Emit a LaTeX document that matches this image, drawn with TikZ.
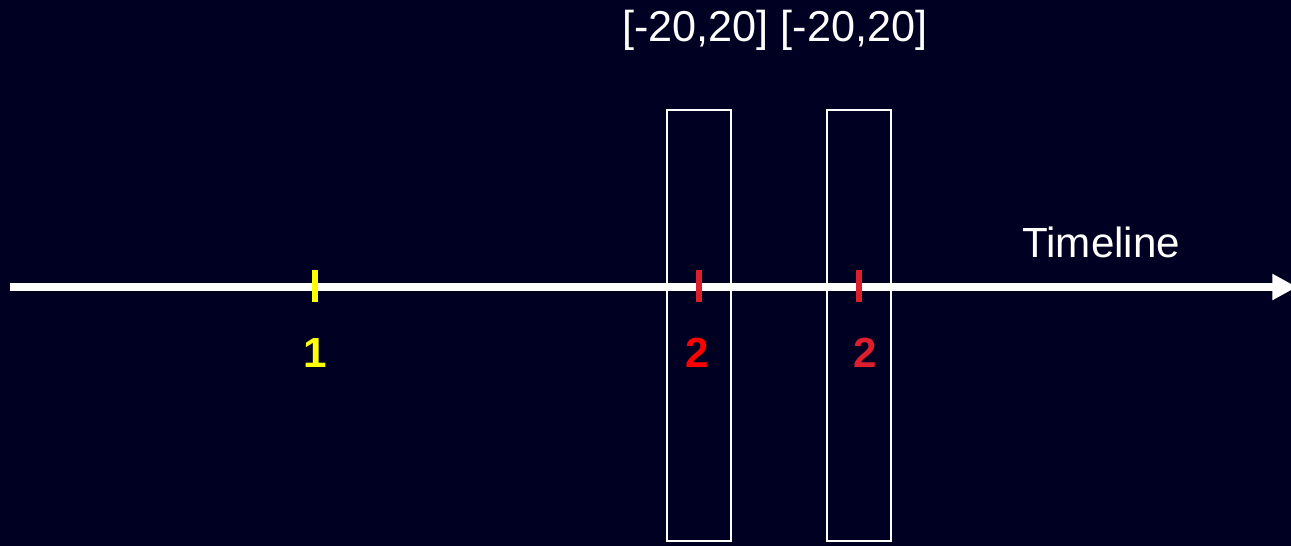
\documentclass[tikz,border=0pt]{standalone}
\usepackage{fontspec}
\setmainfont{Liberation Sans}
\usetikzlibrary{arrows.meta}
\definecolor{bgnavy}{RGB}{0,0,34}
\definecolor{tickred}{RGB}{220,30,45}
\definecolor{tickyellow}{RGB}{255,255,0}
\begin{document}
\begin{tikzpicture}[x=0.02cm,y=-0.02cm,font=\fontsize{24}{28}\selectfont,
  win/.style={draw=white,line width=1.5pt,minimum width=1.28cm,minimum height=8.62cm,inner sep=0pt},
  tick/.style={line width=3pt},
  num/.style={anchor=base,inner sep=0pt,font=\fontsize{24}{28}\selectfont\bfseries}]
\useasboundingbox (0,0) rectangle (1291,546);
\fill[bgnavy] (0,0) rectangle (1291,546);
% windows around the two events
\node[win] (win1) at (699,325.5) {};
\node[win] (win2) at (859,325.5) {};
% time axis
\coordinate (t0) at (10,287);
\coordinate (t1) at (1297,287);
\draw[white,line width=4pt,-{Triangle[length=14pt,width=14pt]}] (t0) -- (t1);
\node[white,anchor=base west,inner sep=0pt] (tl) at (1022,258) {Timeline};
% events
\coordinate (e1) at (315,287);
\coordinate (e2) at (699,287);
\coordinate (e3) at (859,287);
\draw[tick,tickyellow] (e1) ++(0,-17) -- ++(0,32);
\draw[tick,tickred] (e2) ++(0,-17) -- ++(0,32);
\draw[tick,tickred] (e3) ++(0,-17) -- ++(0,32);
\node[num,tickyellow] (n1) at (315,368) {1};
\node[num,red] (n2) at (697,368) {2};
\node[num,tickred] (n3) at (865,368) {2};
\node[white,anchor=base west,inner sep=0pt,font=\fontsize{24.6}{28}\selectfont] (rng) at (622,42) {[-20,20] [-20,20]};
\end{tikzpicture}
\end{document}
